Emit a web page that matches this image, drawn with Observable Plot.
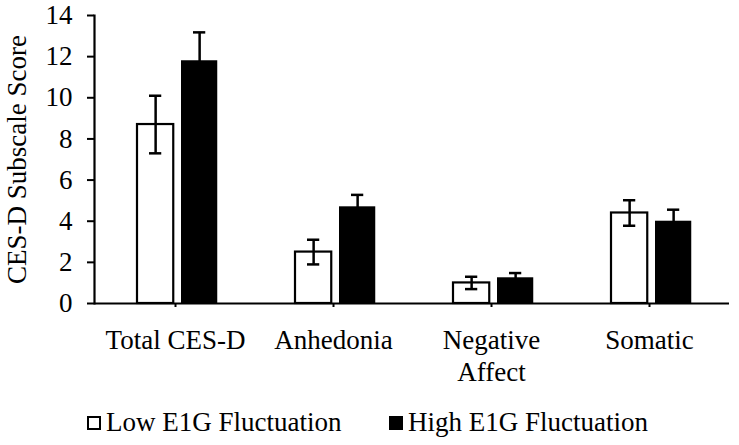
<!DOCTYPE html>
<html><head><meta charset="utf-8">
<script src="https://cdn.jsdelivr.net/npm/d3@7"></script>
<script src="https://cdn.jsdelivr.net/npm/@observablehq/plot@0.6"></script>
<style>
body{margin:0;background:#fff;font-family:"Liberation Serif","Times New Roman",serif;}
#wrap{position:relative;width:739px;height:445px;overflow:hidden;}
#wrap svg{display:block;}
.leg{position:absolute;top:409px;display:flex;align-items:center;font-size:27px;color:#000;line-height:1;white-space:nowrap;font-family:"Liberation Serif","Times New Roman",serif;}
.sw{width:14px;height:14px;border:2px solid #000;margin-right:5px;box-sizing:border-box;}
</style></head><body><div id="wrap"></div>
<script>
const categories = ["Total CES-D", "Anhedonia", "Negative Affect", "Somatic"];
const tickLabels = ["Total CES-D", "Anhedonia", "Negative\nAffect", "Somatic"];
const series = ["Low E1G Fluctuation", "High E1G Fluctuation"];
const lowMean = [8.7, 2.5, 1.0, 4.4];
const lowSE = [1.4, 0.6, 0.3, 0.62];
const highMean = [11.8, 4.7, 1.25, 4.0];
const highSE = [1.38, 0.58, 0.23, 0.56];
const yTicks = [0, 2, 4, 6, 8, 10, 12, 14];

const low = categories.map((c, i) => ({cat: c, mean: lowMean[i], se: lowSE[i]}));
const high = categories.map((c, i) => ({cat: c, mean: highMean[i], se: highSE[i]}));

const W = 739, H = 390, mL = 94, mR = 10, mT = 15, mB = 87;
const bw = (W - mL - mR) / categories.length;
const barW = 37, lowLeft = 41, highLeft = 85, capW = 13;
const lowC = lowLeft + barW / 2, highC = highLeft + barW / 2;
const font = '"Liberation Serif","Times New Roman",serif';

const errMarks = (data, c) => [
  Plot.ruleX(data, {x: "cat", y1: d => d.mean - d.se, y2: d => d.mean + d.se, dx: c - bw / 2, stroke: "#000", strokeWidth: 2.5}),
  Plot.tickY(data, {x: "cat", y: d => d.mean + d.se, insetLeft: c - capW / 2, insetRight: bw - c - capW / 2, stroke: "#000", strokeWidth: 2.5}),
  Plot.tickY(data, {x: "cat", y: d => d.mean - d.se, insetLeft: c - capW / 2, insetRight: bw - c - capW / 2, stroke: "#000", strokeWidth: 2.5})
];

const chart = Plot.plot({
  width: W, height: H,
  marginLeft: mL, marginRight: mR, marginTop: mT, marginBottom: mB,
  style: {fontFamily: font, fontSize: "27px", color: "#000", background: "#fff"},
  x: {domain: categories, padding: 0},
  y: {domain: [0, 14]},
  marks: [
    Plot.barY(low, {x: "cat", y: "mean", fill: "#fff", stroke: "#000", strokeWidth: 2.2, insetLeft: lowLeft, insetRight: bw - lowLeft - barW}),
    Plot.barY(high, {x: "cat", y: "mean", fill: "#000", insetLeft: highLeft, insetRight: bw - highLeft - barW}),
    ...errMarks(low, lowC),
    ...errMarks(high, highC),
    Plot.ruleY([0], {stroke: "#000", strokeWidth: 2.2}),
    Plot.frame({anchor: "left", stroke: "#000", strokeWidth: 2.2}),
    Plot.axisY({ticks: yTicks, tickSize: 7, tickPadding: 15, tickFormat: d => String(d), fontSize: 27, strokeWidth: 2,
      label: "CES-D Subscale Score", labelAnchor: "center", labelArrow: "none", labelOffset: 88, fill: "#000"}),
    Plot.axisX({tickSize: 4, tickPadding: 19, fontSize: 27, lineHeight: 1.18, strokeWidth: 2,
      tickFormat: d => tickLabels[categories.indexOf(d)], label: null, fill: "#000"})
  ]
});

const wrap = document.getElementById("wrap");
wrap.appendChild(chart);
const mk = (name, fill, left) => {
  const d = document.createElement("div");
  d.className = "leg"; d.style.left = left + "px";
  const s = document.createElement("span"); s.className = "sw"; s.style.background = fill;
  const t = document.createElement("span"); t.textContent = name;
  d.appendChild(s); d.appendChild(t);
  wrap.appendChild(d);
};
mk(series[0], "#fff", 87);
mk(series[1], "#000", 389);
</script></body></html>
